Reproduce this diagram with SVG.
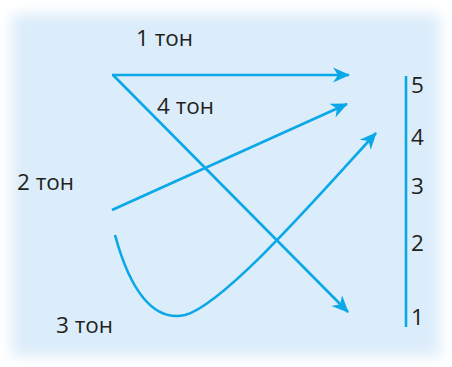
<svg xmlns="http://www.w3.org/2000/svg" width="452" height="367" viewBox="0 0 452 367">
<defs>
<filter id="soft" x="-10%" y="-10%" width="120%" height="120%"><feGaussianBlur stdDeviation="7"/></filter>
<marker id="ah" viewBox="-18 -9 20 18" refX="0" refY="0" markerWidth="20" markerHeight="18" markerUnits="userSpaceOnUse" orient="auto">
<path d="M1,0 L-16,-7.5 L-11,0 L-16,7.5 Z" fill="#0aa8e6"/>
</marker>
<style>
.ln{fill:none;stroke:#0aa8e6;stroke-width:2.6}
.t{font-family:"Open Sans","Liberation Sans",sans-serif;font-size:22.5px;fill:#231f20}
</style>
</defs>
<rect width="452" height="367" fill="#ffffff"/>
<rect x="12" y="14" width="428" height="342" fill="#dbecfa" filter="url(#soft)"/>
<g id="connectors">
<line class="ln" x1="112" y1="75" x2="349" y2="75" marker-end="url(#ah)"/>
<line class="ln" x1="113" y1="75" x2="348" y2="312" marker-end="url(#ah)"/>
<line class="ln" x1="112" y1="210" x2="347" y2="104" marker-end="url(#ah)"/>
<path class="ln" d="M115,235 C130,290 153,322 185,315 C225,304 322,192 376,133" marker-end="url(#ah)"/>
<line class="ln" x1="406" y1="76" x2="406" y2="327"/>
</g>
<g id="label-1"><text class="t" x="136" y="46">1 тон</text></g>
<g id="label-4"><text class="t" x="157" y="114">4 тон</text></g>
<g id="label-2"><text class="t" x="17" y="190">2 тон</text></g>
<g id="label-3"><text class="t" x="56" y="333">3 тон</text></g>
<g id="scale">
<text class="t" x="411" y="93">5</text>
<text class="t" x="411" y="145">4</text>
<text class="t" x="411" y="194">3</text>
<text class="t" x="411" y="251">2</text>
<text class="t" x="411" y="325">1</text>
</g>
</svg>
